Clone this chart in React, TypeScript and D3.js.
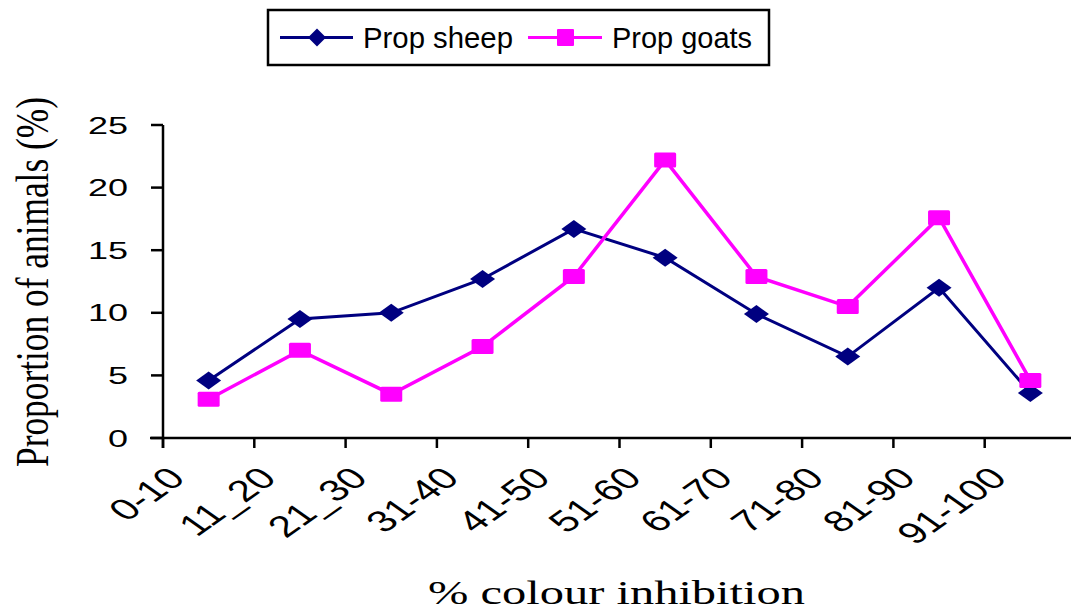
import React from "react";
import * as d3 from "d3";

const categories = ["0-10", "11_20", "21_30", "31-40", "41-50", "51-60", "61-70", "71-80", "81-90", "91-100"];
const sheep = [4.6, 9.5, 10.0, 12.7, 16.7, 14.4, 9.9, 6.5, 12.0, 3.6];
const goats = [3.1, 7.0, 3.5, 7.3, 12.9, 22.2, 12.9, 10.5, 17.6, 4.6];
const yTicks = [0, 5, 10, 15, 20, 25];
const seriesNames = ["Prop sheep", "Prop goats"];

const W = 1071;
const H = 610;
const SHEEP = "#000080";
const GOAT = "#FF00FF";

export default function App() {
  const x = d3.scaleBand<string>().domain(categories).range([163, 1076]).paddingInner(0).paddingOuter(0);
  const y = d3.scaleLinear().domain([0, 25]).range([438, 125]);
  const cx = (c: string) => (x(c) as number) + x.bandwidth() / 2;
  const line = d3
    .line<number>()
    .x((_, i) => cx(categories[i]))
    .y((d) => y(d));

  const diamond = (px: number, py: number, hw: number, hh: number) =>
    `M${px},${py - hh}L${px + hw},${py}L${px},${py + hh}L${px - hw},${py}Z`;

  return (
    <svg
      width={W}
      height={H}
      style={{ position: "absolute", left: 0, top: 0, display: "block", background: "#fff" }}
    >
      <rect x={0} y={0} width={W} height={H} fill="#fff" />
      {/* y axis */}
      <line x1={163} x2={163} y1={y(25)} y2={448} stroke="#000" strokeWidth={2.5} />
      {yTicks.map((t) => (
        <g key={t}>
          <line x1={151} x2={163} y1={y(t)} y2={y(t)} stroke="#000" strokeWidth={2.5} />
          <text
            transform={`translate(128,${y(t) + 8.5}) scale(1.5,1)`}
            textAnchor="end"
            fontFamily="Liberation Sans, Arial, sans-serif"
            fontSize={24}
          >
            {t}
          </text>
        </g>
      ))}
      {/* x axis */}
      <line x1={150} x2={W} y1={y(0)} y2={y(0)} stroke="#000" strokeWidth={2.5} />
      {categories.map((c) => {
        const tx = x(c) as number;
        return (
          <g key={c}>
            <line x1={tx} x2={tx} y1={y(0)} y2={448} stroke="#000" strokeWidth={2.5} />
            <text
              transform={`translate(${tx + 24},${480}) scale(1.42,1) rotate(-45)`}
              textAnchor="end"
              fontFamily="Liberation Sans, Arial, sans-serif"
              fontSize={30}
            >
              {c}
            </text>
          </g>
        );
      })}
      {/* series */}
      <path d={line(sheep) as string} fill="none" stroke={SHEEP} strokeWidth={3} />
      <path d={line(goats) as string} fill="none" stroke={GOAT} strokeWidth={3.5} />
      {sheep.map((v, i) => (
        <path key={"s" + i} d={diamond(cx(categories[i]), y(v), 12.5, 9)} fill={SHEEP} />
      ))}
      {goats.map((v, i) => (
        <rect
          key={"g" + i}
          x={cx(categories[i]) - 11}
          y={y(v) - 7.5}
          width={22}
          height={15}
          rx={1.5}
          fill={GOAT}
        />
      ))}
      {/* axis titles */}
      <text
        transform={`translate(48,${282}) rotate(-90)`}
        textAnchor="middle"
        fontFamily="Liberation Serif, Times New Roman, serif"
        fontSize={46}
        textLength={370}
        lengthAdjust="spacingAndGlyphs"
      >
        Proportion of animals (%)
      </text>
      <text
        x={428}
        y={604}
        fontFamily="Liberation Serif, Times New Roman, serif"
        fontSize={33}
        textLength={377}
        lengthAdjust="spacingAndGlyphs"
      >
        % colour inhibition
      </text>
      {/* legend */}
      <rect x={268} y={10} width={501} height={55} fill="#fff" stroke="#000" strokeWidth={2.5} />
      <line x1={280} x2={353} y1={37.5} y2={37.5} stroke={SHEEP} strokeWidth={3} />
      <path d={diamond(317, 37.5, 9, 9)} fill={SHEEP} />
      <text
        x={363}
        y={48}
        fontFamily="Liberation Sans, Arial, sans-serif"
        fontSize={30}
        textLength={150}
        lengthAdjust="spacingAndGlyphs"
      >
        {seriesNames[0]}
      </text>
      <line x1={528} x2={602} y1={37.5} y2={37.5} stroke={GOAT} strokeWidth={3} />
      <rect x={557} y={29} width={17} height={17} rx={1} fill={GOAT} />
      <text
        x={612}
        y={48}
        fontFamily="Liberation Sans, Arial, sans-serif"
        fontSize={30}
        textLength={140}
        lengthAdjust="spacingAndGlyphs"
      >
        {seriesNames[1]}
      </text>
    </svg>
  );
}
